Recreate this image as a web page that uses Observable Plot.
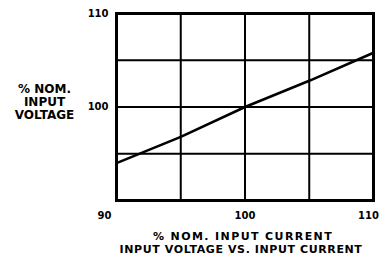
<!DOCTYPE html>
<html><head><meta charset="utf-8">
<script src="https://cdn.jsdelivr.net/npm/d3@7"></script>
<script src="https://cdn.jsdelivr.net/npm/@observablehq/plot@0.6"></script>
<style>
html,body{margin:0;padding:0;background:#fff;}
svg{display:block;}
</style>
</head><body>
<div id="chart"></div>
<script>
const currentPct = [90, 95, 100, 105, 110];
const voltagePct = [94, 96.8, 100, 102.8, 105.8];
const gridTicks = [95, 100, 105];
const xTickFirst = [90];
const xTickMid = [100];
const xTickLast = [110];
const yTickLabels = [100, 110];
const yLabel = "% NOM.\nINPUT\nVOLTAGE";
const xLabel = "% NOM. INPUT CURRENT";
const title = "INPUT VOLTAGE VS. INPUT CURRENT";

const data = currentPct.map((x, i) => ({x, y: voltagePct[i]}));
const font = "DejaVu Sans, sans-serif";
const tickOpts = {tickSize: 0, tickPadding: 11, fontSize: 10, fontWeight: "bold", label: null};

const chart = Plot.plot({
  width: 380, height: 267,
  marginLeft: 116, marginRight: 7, marginTop: 13, marginBottom: 67,
  style: {fontFamily: font, fontWeight: "bold", color: "#000", background: "#fff"},
  x: {domain: [90, 110], axis: null},
  y: {domain: [90, 110], axis: null},
  marks: [
    Plot.ruleX(gridTicks, {stroke: "#000", strokeWidth: 2}),
    Plot.ruleY(gridTicks, {stroke: "#000", strokeWidth: 2}),
    Plot.frame({stroke: "#000", strokeWidth: 3}),
    Plot.line(data, {x: "x", y: "y", stroke: "#000", strokeWidth: 2.6}),
    Plot.axisY(yTickLabels, {tickSize: 0, tickPadding: 8, fontSize: 10, fontWeight: "bold", label: null}),
    Plot.axisX(xTickFirst, {...tickOpts, dx: -12}),
    Plot.axisX(xTickMid, tickOpts),
    Plot.axisX(xTickLast, {...tickOpts, dx: -5}),
    Plot.text([yLabel], {frameAnchor: "left", dx: -72, dy: -5, textAnchor: "middle", fontSize: 12, fontWeight: "bold", lineHeight: 1.1}),
    Plot.text([xLabel], {frameAnchor: "bottom", dy: 39, dx: -2, fontSize: 11, fontWeight: "bold"}),
    Plot.text([title], {frameAnchor: "bottom", dy: 52, dx: -4, fontSize: 11, fontWeight: "bold"})
  ]
});
document.getElementById("chart").appendChild(chart);
d3.select(chart).selectAll("text").each(function() {
  const t = this.textContent;
  if (t === xLabel) this.style.letterSpacing = "1.4px";
  if (t === title) this.style.letterSpacing = "0.6px";
});
</script>
</body></html>
